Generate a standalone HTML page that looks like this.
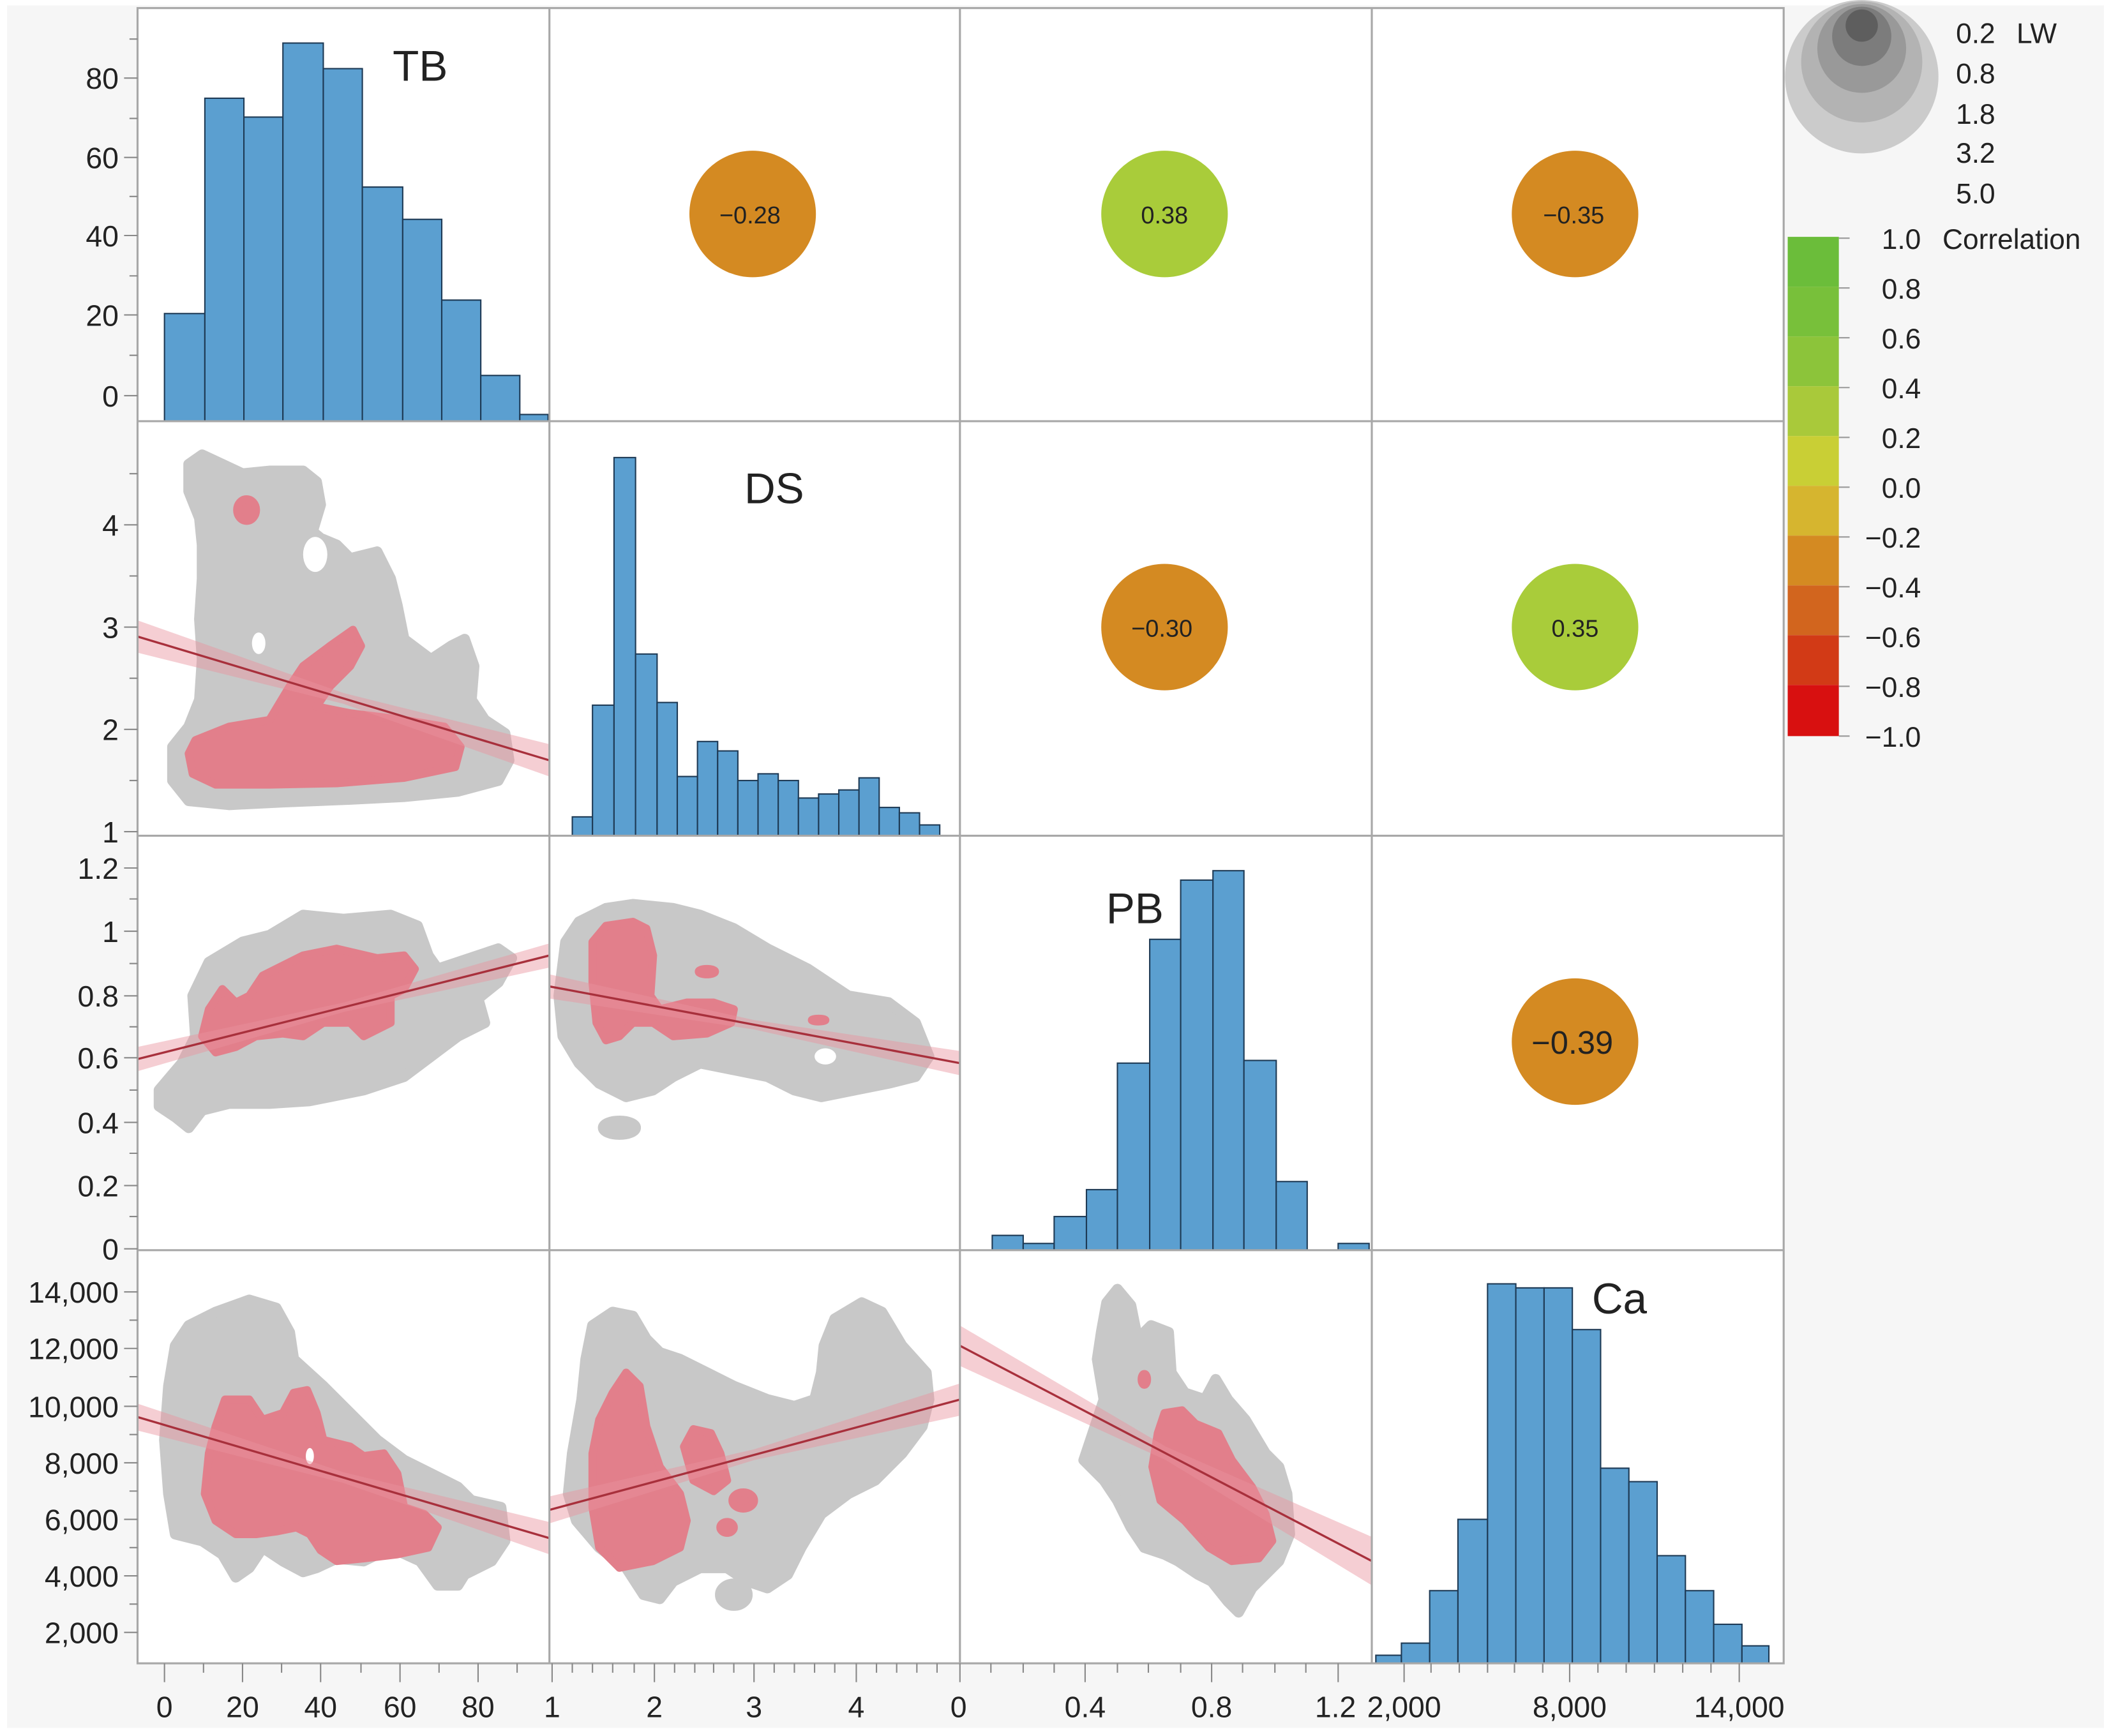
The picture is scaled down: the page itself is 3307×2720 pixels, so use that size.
<!DOCTYPE html>
<html><head><meta charset="utf-8"><style>
html,body{margin:0;padding:0;background:#fff}
svg{display:block}
text{font-family:"Liberation Sans",sans-serif;fill:#222}
</style></head><body>
<svg width="3307" height="2720" viewBox="0 0 1568 1290" xmlns="http://www.w3.org/2000/svg">
<rect x="5" y="4" width="1558" height="1280" fill="#f6f6f6"/>
<rect x="102" y="6" width="1223" height="1230" fill="#fff"/>

<!-- histograms -->
<g fill="#5b9fd0" stroke="#1e3a55" stroke-width="1">
<!-- TB -->
<rect x="122" y="233" width="30" height="80"/><rect x="152" y="73" width="29" height="240"/>
<rect x="181" y="87" width="29" height="226"/><rect x="210" y="32" width="30" height="281"/>
<rect x="240" y="51" width="29" height="262"/><rect x="269" y="139" width="30" height="174"/>
<rect x="299" y="163" width="29" height="150"/><rect x="328" y="223" width="29" height="90"/>
<rect x="357" y="279" width="29" height="34"/><rect x="386" y="308" width="21" height="5"/>
<!-- DS -->
<rect x="425" y="607" width="15" height="14"/><rect x="440" y="524" width="16" height="97"/>
<rect x="456" y="340" width="16" height="281"/><rect x="472" y="486" width="16" height="135"/>
<rect x="488" y="522" width="15" height="99"/><rect x="503" y="577" width="15" height="44"/>
<rect x="518" y="551" width="15" height="70"/><rect x="533" y="558" width="15" height="63"/>
<rect x="548" y="580" width="15" height="41"/><rect x="563" y="575" width="15" height="46"/>
<rect x="578" y="580" width="15" height="41"/><rect x="593" y="593" width="15" height="28"/>
<rect x="608" y="590" width="15" height="31"/><rect x="623" y="587" width="15" height="34"/>
<rect x="638" y="578" width="15" height="43"/><rect x="653" y="600" width="15" height="21"/>
<rect x="668" y="604" width="15" height="17"/><rect x="683" y="613" width="15" height="8"/>
<!-- PB -->
<rect x="737" y="918" width="23" height="11"/><rect x="760" y="924" width="23" height="5"/>
<rect x="783" y="904" width="24" height="25"/><rect x="807" y="884" width="23" height="45"/>
<rect x="830" y="790" width="24" height="139"/><rect x="854" y="698" width="23" height="231"/>
<rect x="877" y="654" width="24" height="275"/><rect x="901" y="647" width="23" height="282"/>
<rect x="924" y="788" width="24" height="141"/><rect x="948" y="878" width="23" height="51"/>
<rect x="994" y="924" width="23" height="5"/>
<!-- Ca -->
<rect x="1022" y="1230" width="19" height="6"/><rect x="1041" y="1221" width="21" height="15"/>
<rect x="1062" y="1182" width="21" height="54"/><rect x="1083" y="1129" width="22" height="107"/>
<rect x="1105" y="954" width="21" height="282"/><rect x="1126" y="957" width="21" height="279"/>
<rect x="1147" y="957" width="21" height="279"/><rect x="1168" y="988" width="21" height="248"/>
<rect x="1189" y="1091" width="21" height="145"/><rect x="1210" y="1101" width="21" height="135"/>
<rect x="1231" y="1156" width="21" height="80"/><rect x="1252" y="1182" width="21" height="54"/>
<rect x="1273" y="1207" width="21" height="29"/><rect x="1294" y="1223" width="20" height="13"/>
</g>

<!-- density blobs -->
<g stroke-linejoin="round" stroke-width="8">
<g fill="#c8c8c8" stroke="#c8c8c8">
<polygon points="140,345 150,338 165,345 180,352 200,350 225,350 235,358 238,375 232,395 238,400 250,405 260,415 280,410 290,430 295,450 300,475 320,490 335,480 345,475 352,495 350,520 360,535 375,545 378,565 370,580 340,588 300,592 260,594 210,596 170,598 140,595 128,580 128,555 140,540 148,520 150,490 148,460 150,430 150,405 148,385 140,365"/>
<polygon points="118,810 135,790 145,770 143,740 155,715 180,700 200,695 225,680 255,683 290,680 310,688 318,710 325,720 340,715 370,705 380,712 370,730 355,742 360,760 340,770 320,785 300,800 270,810 230,818 200,820 170,820 150,825 140,838 130,830 118,822"/>
<polygon points="420,700 430,685 450,675 470,672 500,675 520,680 545,690 570,705 600,720 630,740 660,745 680,760 690,785 680,800 660,805 635,810 610,815 590,810 570,800 545,795 520,790 500,800 485,810 465,815 445,805 430,790 418,770 415,740"/>
<ellipse cx="460" cy="838" rx="12" ry="5"/>
<polygon points="125,1030 130,1000 140,985 160,975 185,966 205,972 215,990 218,1010 240,1030 260,1050 280,1070 300,1085 320,1095 340,1105 350,1115 372,1120 375,1145 365,1160 345,1170 340,1178 325,1178 312,1160 290,1150 270,1160 250,1158 235,1165 225,1168 210,1160 195,1150 185,1165 175,1172 165,1155 150,1145 130,1140 125,1110 122,1070"/>
<polygon points="425,1080 432,1040 435,1010 440,985 455,975 470,978 480,995 490,1005 505,1010 525,1020 545,1030 570,1040 590,1045 605,1040 610,1020 612,1000 620,980 640,968 655,975 670,1000 688,1020 690,1040 685,1060 670,1080 650,1100 630,1110 610,1125 595,1150 585,1170 570,1180 555,1175 540,1165 520,1165 500,1175 490,1188 478,1185 465,1165 445,1150 428,1130 422,1110"/>
<ellipse cx="545" cy="1185" rx="10" ry="8"/>
<polygon points="818,990 822,968 830,958 840,970 845,995 855,985 868,990 870,1020 880,1035 895,1040 903,1025 912,1040 925,1055 940,1080 950,1090 956,1110 958,1140 950,1160 930,1180 920,1198 912,1190 900,1175 890,1170 875,1160 865,1155 850,1150 840,1135 830,1115 820,1100 805,1085 810,1070 820,1040 815,1010"/>
</g>
<g fill="#fff" stroke="none">
<ellipse cx="234" cy="412" rx="9" ry="13"/><ellipse cx="192" cy="478" rx="5" ry="8"/>
<ellipse cx="613" cy="785" rx="8" ry="6"/><ellipse cx="595" cy="1008" rx="12" ry="10"/>
</g>
<g fill="#e27f8b" stroke="#e27f8b" stroke-width="6">
<polygon points="145,550 170,540 200,535 215,510 225,495 245,480 262,468 268,480 260,495 245,510 235,525 260,530 300,535 330,540 342,555 338,570 300,578 250,582 200,583 160,583 143,575 140,560"/>
<ellipse cx="183" cy="379" rx="7" ry="8"/>
<polygon points="150,770 155,750 165,735 175,745 185,740 195,725 225,710 250,705 280,712 300,710 308,720 300,735 290,740 290,760 270,770 260,760 240,760 225,770 210,768 190,770 175,778 160,782"/>
<polygon points="440,700 450,688 470,685 480,690 485,710 483,740 490,750 510,745 530,745 545,750 543,760 525,768 500,770 485,760 470,760 460,770 450,773 443,760 440,730"/>
<ellipse cx="525" cy="722" rx="6" ry="2"/><ellipse cx="608" cy="758" rx="5" ry="1"/>
<polygon points="155,1080 160,1060 167,1040 185,1040 195,1055 210,1050 218,1035 228,1033 235,1050 240,1070 260,1075 270,1082 285,1080 295,1095 300,1120 315,1125 325,1135 318,1150 295,1155 270,1158 250,1160 238,1152 230,1140 220,1135 205,1138 190,1140 175,1140 160,1130 152,1110"/>
<polygon points="440,1080 445,1055 455,1035 465,1020 475,1030 480,1060 490,1090 505,1110 510,1130 505,1150 485,1160 460,1165 445,1150 440,1120"/>
<polygon points="508,1075 515,1062 528,1065 535,1080 540,1100 530,1108 515,1100"/>
<ellipse cx="552" cy="1115" rx="8" ry="6"/><ellipse cx="540" cy="1135" rx="5" ry="4"/>
<polygon points="860,1065 865,1050 878,1048 888,1058 905,1065 915,1085 930,1105 940,1125 945,1145 935,1158 915,1160 898,1150 880,1130 862,1115 856,1090"/>
<ellipse cx="850" cy="1025" rx="2" ry="4"/>
</g>
<ellipse cx="230" cy="1082" rx="3" ry="6" fill="#fff" stroke="none"/>
</g>

<!-- regression bands & lines -->
<g fill="#e8939d" fill-opacity="0.45">
<polygon points="102,461 255,515 408,553 408,577 255,523 102,485"/>
<polygon points="102,778 255,745 408,701 408,719 255,752 102,796"/>
<polygon points="408,724 560,758 713,781 713,799 560,765 408,742"/>
<polygon points="102,1043 255,1094 408,1131 408,1155 255,1102 102,1063"/>
<polygon points="408,1112 560,1077 713,1028 713,1052 560,1085 408,1132"/>
<polygon points="713,985 866,1075 1019,1142 1019,1178 866,1085 713,1015"/>
</g>
<g stroke="#a8303c" stroke-width="1.6">
<line x1="102" y1="473" x2="408" y2="565"/><line x1="102" y1="787" x2="408" y2="710"/>
<line x1="408" y1="733" x2="713" y2="790"/><line x1="102" y1="1053" x2="408" y2="1143"/>
<line x1="408" y1="1122" x2="713" y2="1040"/><line x1="713" y1="1000" x2="1019" y2="1160"/>
</g>

<!-- correlation circles -->
<g>
<circle cx="559" cy="159" r="47" fill="#d48a22"/><circle cx="865" cy="159" r="47" fill="#a9cc3a"/>
<circle cx="1170" cy="159" r="47" fill="#d48a22"/><circle cx="865" cy="466" r="47" fill="#d48a22"/>
<circle cx="1170" cy="466" r="47" fill="#a9cc3a"/><circle cx="1170" cy="774" r="47" fill="#d48a22"/>
</g>
<g font-size="18" text-anchor="middle">
<text x="557" y="166">−0.28</text><text x="865" y="166">0.38</text>
<text x="1169" y="166">−0.35</text><text x="863" y="473">−0.30</text>
<text x="1170" y="473">0.35</text><text x="1168" y="783" font-size="24">−0.39</text>
</g>
<g font-size="32" text-anchor="middle">
<text x="312" y="60">TB</text><text x="575" y="374">DS</text>
<text x="843" y="686">PB</text><text x="1203" y="976">Ca</text>
</g>

<!-- grid -->
<g stroke="#a8a8a8" stroke-width="1.5" fill="none">
<rect x="102" y="6" width="1223" height="1230"/>
<line x1="408" y1="6" x2="408" y2="1236"/><line x1="713" y1="6" x2="713" y2="1236"/><line x1="1019" y1="6" x2="1019" y2="1236"/>
<line x1="102" y1="313" x2="1325" y2="313"/><line x1="102" y1="621" x2="1325" y2="621"/><line x1="102" y1="929" x2="1325" y2="929"/>
</g>
<!-- y ticks -->
<g stroke="#888" stroke-width="1">
<path d="M92 58h10M92 117h10M92 175h10M92 234h10M92 294h10M96 29h6M96 88h6M96 146h6M96 205h6M96 264h6"/>
<path d="M92 390h10M92 466h10M92 542h10M92 618h10M96 352h6M96 428h6M96 504h6M96 580h6"/>
<path d="M92 645h10M92 692h10M92 740h10M92 786h10M92 834h10M92 881h10M92 928h10M96 668h6M96 716h6M96 763h6M96 810h6M96 857h6M96 904h6"/>
<path d="M92 960h10M92 1002h10M92 1045h10M92 1087h10M92 1129h10M92 1171h10M92 1213h10M96 981h6M96 1023h6M96 1066h6M96 1108h6M96 1150h6M96 1192h6"/>
<path d="M122 1236v14M180 1236v14M238 1236v14M297 1236v14M355 1236v14M151 1236v7M209 1236v7M268 1236v7M326 1236v7M384 1236v7"/>
<path d="M410 1236v14M486 1236v14M560 1236v14M636 1236v14M425 1236v7M440 1236v7M455 1236v7M471 1236v7M501 1236v7M516 1236v7M530 1236v7M545 1236v7M575 1236v7M590 1236v7M605 1236v7M620 1236v7M651 1236v7M666 1236v7M681 1236v7M696 1236v7"/>
<path d="M713 1236v14M806 1236v14M900 1236v14M994 1236v14M736 1236v7M760 1236v7M783 1236v7M830 1236v7M853 1236v7M877 1236v7M923 1236v7M947 1236v7M970 1236v7"/>
<path d="M1043 1236v14M1166 1236v14M1292 1236v14M1063 1236v7M1084 1236v7M1105 1236v7M1125 1236v7M1146 1236v7M1187 1236v7M1208 1236v7M1229 1236v7M1250 1236v7M1271 1236v7"/>
</g>
<g font-size="22" text-anchor="end">
<text x="88" y="66">80</text><text x="88" y="125">60</text><text x="88" y="183">40</text><text x="88" y="242">20</text><text x="88" y="302">0</text>
<text x="88" y="398">4</text><text x="88" y="474">3</text><text x="88" y="550">2</text><text x="88" y="626">1</text>
<text x="88" y="653">1.2</text><text x="88" y="700">1</text><text x="88" y="748">0.8</text><text x="88" y="794">0.6</text><text x="88" y="842">0.4</text><text x="88" y="889">0.2</text><text x="88" y="936">0</text>
<text x="88" y="968">14,000</text><text x="88" y="1010">12,000</text><text x="88" y="1053">10,000</text><text x="88" y="1095">8,000</text><text x="88" y="1137">6,000</text><text x="88" y="1179">4,000</text><text x="88" y="1221">2,000</text>
</g>
<g font-size="22" text-anchor="middle">
<text x="122" y="1276">0</text><text x="180" y="1276">20</text><text x="238" y="1276">40</text><text x="297" y="1276">60</text><text x="355" y="1276">80</text>
<text x="410" y="1276">1</text><text x="486" y="1276">2</text><text x="560" y="1276">3</text><text x="636" y="1276">4</text>
<text x="712" y="1276">0</text><text x="806" y="1276">0.4</text><text x="900" y="1276">0.8</text><text x="992" y="1276">1.2</text>
<text x="1043" y="1276">2,000</text><text x="1166" y="1276">8,000</text><text x="1292" y="1276">14,000</text>
</g>

<!-- legend LW -->
<circle cx="1383" cy="57" r="57" fill="#cbcbcb"/>
<circle cx="1383" cy="46" r="45" fill="#b3b3b3"/>
<circle cx="1383" cy="36" r="33" fill="#999"/>
<circle cx="1383" cy="27" r="22" fill="#7c7c7c"/>
<circle cx="1383" cy="19" r="12" fill="#5e5e5e"/>
<g font-size="21">
<text x="1453" y="32">0.2</text><text x="1498" y="32">LW</text>
<text x="1453" y="62">0.8</text><text x="1453" y="92">1.8</text><text x="1453" y="121">3.2</text><text x="1453" y="151">5.0</text>
</g>
<!-- colorbar -->
<rect x="1328" y="176" width="38" height="37" fill="#6bbd3a"/>
<rect x="1328" y="213" width="38" height="37" fill="#78c03a"/>
<rect x="1328" y="250" width="38" height="37" fill="#8cc43a"/>
<rect x="1328" y="287" width="38" height="37" fill="#a9c93a"/>
<rect x="1328" y="324" width="38" height="37" fill="#c9cf35"/>
<rect x="1328" y="361" width="38" height="37" fill="#d6b52f"/>
<rect x="1328" y="398" width="38" height="37" fill="#d48a22"/>
<rect x="1328" y="435" width="38" height="37" fill="#d2651e"/>
<rect x="1328" y="472" width="38" height="37" fill="#d23a16"/>
<rect x="1328" y="509" width="38" height="38" fill="#d81010"/>
<g stroke="#999" stroke-width="1"><path d="M1366 177h8M1366 214h8M1366 251h8M1366 288h8M1366 325h8M1366 362h8M1366 399h8M1366 436h8M1366 473h8M1366 510h8M1366 547h8"/></g>
<g font-size="21" text-anchor="end">
<text x="1427" y="185">1.0</text><text x="1427" y="222">0.8</text><text x="1427" y="259">0.6</text><text x="1427" y="296">0.4</text><text x="1427" y="333">0.2</text><text x="1427" y="370">0.0</text><text x="1427" y="407">−0.2</text><text x="1427" y="444">−0.4</text><text x="1427" y="481">−0.6</text><text x="1427" y="518">−0.8</text><text x="1427" y="555">−1.0</text>
</g>
<text x="1443" y="185" font-size="21">Correlation</text>
</svg>
</body></html>
